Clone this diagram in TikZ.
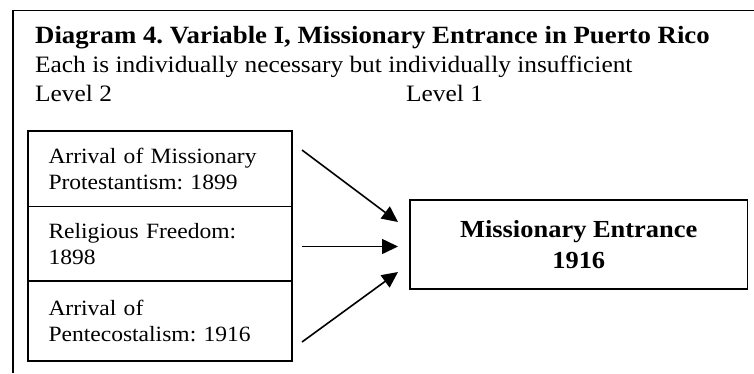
\documentclass[tikz,border=0pt]{standalone}
\usepackage{fontspec}
\setmainfont{Liberation Serif}[FakeStretch=1.08]
\usetikzlibrary{arrows.meta}
\frenchspacing

\tikzset{
  frame/.style={line width=1.8pt},
  cell/.style={draw, line width=1.6pt, rectangle, minimum width=264pt,
    inner xsep=20.5pt, inner ysep=0pt, text width=223pt, align=left,
    font=\fontsize{21.8}{26}\selectfont},
  outcome/.style={draw, line width=1.6pt, rectangle, minimum width=337.5pt,
    minimum height=89pt, align=center,
    font=\fontsize{24.5}{31.5}\selectfont\bfseries},
  headline/.style={anchor=base west, inner sep=0pt,
    font=\fontsize{23.5}{29}\selectfont},
  cause/.style={line width=1.6pt, -{Triangle[length=16pt,width=15pt]}}
}

\begin{document}
\begin{tikzpicture}[x=1pt, y=-1pt]
  \useasboundingbox (0,0) rectangle (754,373);

  % open frame around the diagram
  \draw[frame] (13,373) -- (13,10.5) -- (754,10.5);

  % heading lines
  \node[headline, font=\fontsize{24.8}{29}\selectfont\bfseries] (title) at (35,43)
    {Diagram 4. Variable I, Missionary Entrance in Puerto Rico};
  \node[headline] (sub) at (35,72) {Each is individually necessary but individually insufficient};
  \node[headline] (lvl2) at (35,101) {Level 2};
  \node[headline] (lvl1) at (406,101) {Level 1};

  % level 2 conditions
  \node[cell, minimum height=75.5pt] (c1) at (160,168.75)
    {Arrival of Missionary\\Protestantism: 1899};
  \node[cell, minimum height=74.5pt] (c2) at (160,243.75)
    {Religious Freedom:\\1898};
  \node[cell, minimum height=80pt] (c3) at (160,321)
    {Arrival of\\Pentecostalism: 1916};

  % level 1 outcome
  \node[outcome] (me) at (578.75,244.5) {Missionary Entrance\\1916};

  % arrow ends
  \coordinate (s1) at (302,150);
  \coordinate (s2) at (302,246.5);
  \coordinate (s3) at (302,342);
  \coordinate (e1) at (398,222);
  \coordinate (e2) at (398,246.5);
  \coordinate (e3) at (398,272);

  \draw[cause] (s1) -- (e1);
  \draw[cause] (s2) -- (e2);
  \draw[cause] (s3) -- (e3);
\end{tikzpicture}
\end{document}
